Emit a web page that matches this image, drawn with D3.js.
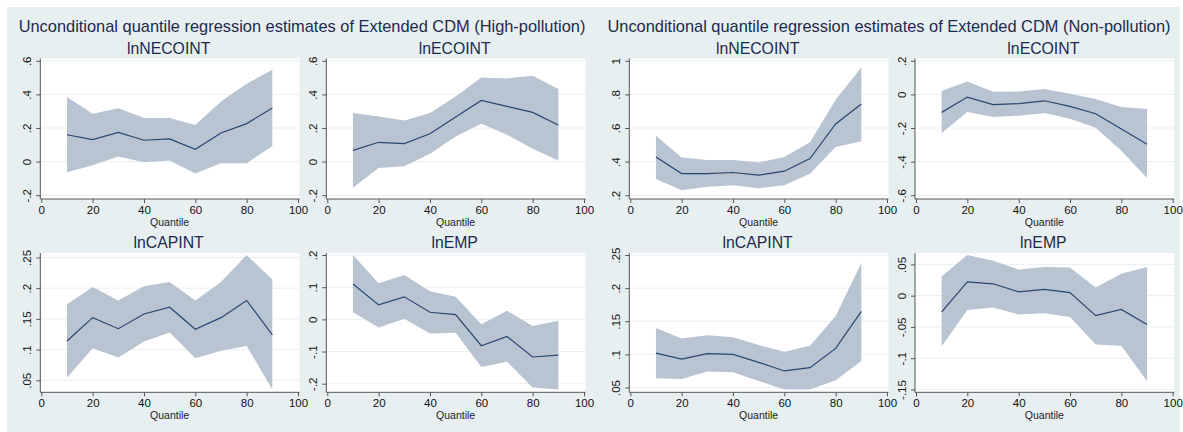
<!DOCTYPE html>
<html>
<head>
<meta charset="utf-8">
<script src="https://cdn.jsdelivr.net/npm/d3@7"></script>
<style>
  html, body { margin: 0; padding: 0; background: #ffffff; }
  #app { width: 1183px; height: 432px; }
  text { font-family: "Liberation Sans", Arial, Helvetica, sans-serif; }
</style>
</head>
<body>
<div id="app"></div>
<script>
// Quantiles estimated
const quantiles = [10, 20, 30, 40, 50, 60, 70, 80, 90];
const xTicks = [0, 20, 40, 60, 80, 100];

// High-pollution
const highNecoEst = [0.160, 0.131, 0.174, 0.127, 0.135, 0.073, 0.170, 0.226, 0.319];
const highNecoHi  = [0.384, 0.285, 0.317, 0.259, 0.259, 0.218, 0.358, 0.463, 0.547];
const highNecoLo  = [-0.063, -0.022, 0.030, -0.004, 0.006, -0.071, -0.010, -0.010, 0.093];

const highEcoEst = [0.067, 0.115, 0.107, 0.166, 0.265, 0.364, 0.329, 0.293, 0.218];
const highEcoHi  = [0.289, 0.269, 0.244, 0.289, 0.388, 0.501, 0.495, 0.511, 0.432];
const highEcoLo  = [-0.156, -0.038, -0.028, 0.046, 0.150, 0.226, 0.160, 0.077, 0.006];

const highCapEst = [0.114, 0.152, 0.134, 0.158, 0.169, 0.133, 0.152, 0.180, 0.124];
const highCapHi  = [0.174, 0.202, 0.180, 0.203, 0.210, 0.180, 0.210, 0.254, 0.214];
const highCapLo  = [0.054, 0.102, 0.087, 0.113, 0.128, 0.086, 0.098, 0.106, 0.035];

const highEmpEst = [0.110, 0.045, 0.070, 0.022, 0.015, -0.082, -0.053, -0.117, -0.111];
const highEmpHi  = [0.200, 0.112, 0.138, 0.087, 0.070, -0.015, 0.027, -0.021, -0.004];
const highEmpLo  = [0.022, -0.025, 0.002, -0.044, -0.042, -0.148, -0.132, -0.212, -0.218];

// Non-pollution
const nonNecoEst = [0.428, 0.329, 0.329, 0.335, 0.319, 0.343, 0.418, 0.624, 0.743];
const nonNecoHi  = [0.554, 0.424, 0.410, 0.410, 0.394, 0.428, 0.515, 0.768, 0.960];
const nonNecoLo  = [0.297, 0.230, 0.250, 0.259, 0.242, 0.259, 0.327, 0.487, 0.521];

const nonEcoEst = [-0.107, -0.016, -0.061, -0.055, -0.038, -0.071, -0.115, -0.206, -0.297];
const nonEcoHi  = [0.020, 0.077, 0.016, 0.018, 0.032, 0.004, -0.028, -0.075, -0.087];
const nonEcoLo  = [-0.230, -0.105, -0.135, -0.127, -0.111, -0.145, -0.198, -0.335, -0.497];

const nonCapEst = [0.102, 0.093, 0.101, 0.100, 0.088, 0.075, 0.080, 0.109, 0.165];
const nonCapHi  = [0.140, 0.124, 0.129, 0.126, 0.114, 0.104, 0.113, 0.158, 0.238];
const nonCapLo  = [0.064, 0.063, 0.074, 0.073, 0.060, 0.047, 0.047, 0.061, 0.090];

const nonEmpEst = [-0.026, 0.022, 0.019, 0.006, 0.010, 0.005, -0.032, -0.022, -0.046];
const nonEmpHi  = [0.031, 0.065, 0.056, 0.042, 0.046, 0.045, 0.013, 0.035, 0.046];
const nonEmpLo  = [-0.081, -0.023, -0.019, -0.030, -0.028, -0.034, -0.078, -0.080, -0.137];

// y axis ticks per panel
const yTicksHighNeco = [-0.2, 0, 0.2, 0.4, 0.6];
const yTicksHighEco  = [-0.2, 0, 0.2, 0.4, 0.6];
const yTicksHighCap  = [0.05, 0.1, 0.15, 0.2, 0.25];
const yTicksHighEmp  = [-0.2, -0.1, 0, 0.1, 0.2];
const yTicksNonNeco  = [0.2, 0.4, 0.6, 0.8, 1];
const yTicksNonEco   = [-0.6, -0.4, -0.2, 0, 0.2];
const yTicksNonCap   = [0.05, 0.1, 0.15, 0.2, 0.25];
const yTicksNonEmp   = [-0.15, -0.1, -0.05, 0, 0.05];

const titles = [
  "Unconditional quantile regression estimates of Extended CDM (High-pollution)",
  "Unconditional quantile regression estimates of Extended CDM (Non-pollution)"
];

function drawPlot(targetDiv) {
  const width = 1183, height = 432;
  const svg = d3.select(targetDiv).append("svg")
    .attr("width", width)
    .attr("height", height)
    .attr("viewBox", [0, 0, width, height]);

  const bgColor = "#e8eff1";
  const titleColor = "#1c2a4e";
  const lineColor = "#29476c";
  const bandColor = "#b9c4d3";
  const axisColor = "#555";

  svg.append("rect").attr("x", 7).attr("y", 7)
    .attr("width", 1173).attr("height", height - 7)
    .attr("fill", bgColor);

  // Stata-like tick formatting: .2, -.15, 0, 1
  const stataFmt = v => String(+v.toFixed(3)).replace(/^(-?)0\./, "$1.");

  const colX0 = [41.3, 327.3, 630.3, 916];
  const plotW = 256.7;
  const rows = [
    {regionTop: 58.5, innerTop: 60.8, innerBottom: 195.2, axisY: 199},
    {regionTop: 253, innerTop: 255, innerBottom: 389.5, axisY: 392.3}
  ];

  const panels = [
    {name: "lnNECOINT", row: 0, col: 0, est: highNecoEst, hi: highNecoHi, lo: highNecoLo, ticks: yTicksHighNeco},
    {name: "lnECOINT",  row: 0, col: 1, est: highEcoEst,  hi: highEcoHi,  lo: highEcoLo,  ticks: yTicksHighEco},
    {name: "lnCAPINT",  row: 1, col: 0, est: highCapEst,  hi: highCapHi,  lo: highCapLo,  ticks: yTicksHighCap},
    {name: "lnEMP",     row: 1, col: 1, est: highEmpEst,  hi: highEmpHi,  lo: highEmpLo,  ticks: yTicksHighEmp},
    {name: "lnNECOINT", row: 0, col: 2, est: nonNecoEst,  hi: nonNecoHi,  lo: nonNecoLo,  ticks: yTicksNonNeco},
    {name: "lnECOINT",  row: 0, col: 3, est: nonEcoEst,   hi: nonEcoHi,   lo: nonEcoLo,   ticks: yTicksNonEco},
    {name: "lnCAPINT",  row: 1, col: 2, est: nonCapEst,   hi: nonCapHi,   lo: nonCapLo,   ticks: yTicksNonCap},
    {name: "lnEMP",     row: 1, col: 3, est: nonEmpEst,   hi: nonEmpHi,   lo: nonEmpLo,   ticks: yTicksNonEmp}
  ];

  // main titles
  titles.forEach((t, i) => {
    svg.append("text")
      .attr("x", 302 + i * 587)
      .attr("y", 32)
      .attr("text-anchor", "middle")
      .attr("font-size", 16.4)
      .attr("fill", titleColor)
      .text(t);
  });

  panels.forEach(p => {
    const r = rows[p.row];
    const x0 = colX0[p.col];
    const x = d3.scaleLinear().domain([0, 100]).range([x0, x0 + plotW]);
    const yMin = Math.min(d3.min(p.ticks), d3.min(p.lo));
    const yMax = Math.max(d3.max(p.ticks), d3.max(p.hi));
    const y = d3.scaleLinear().domain([yMin, yMax]).range([r.innerBottom, r.innerTop]);

    const g = svg.append("g");

    // plot region
    g.append("rect")
      .attr("x", x0 - 1).attr("y", r.regionTop)
      .attr("width", plotW + 2.5).attr("height", r.axisY - r.regionTop)
      .attr("fill", "#ffffff");

    // gridlines
    g.selectAll(".grid").data(p.ticks).join("line")
      .attr("x1", x0 - 1).attr("x2", x0 + plotW + 1.5)
      .attr("y1", d => y(d)).attr("y2", d => y(d))
      .attr("stroke", bgColor).attr("stroke-width", 1);

    // confidence band
    const area = d3.area()
      .x((d, i) => x(quantiles[i]))
      .y0((d, i) => y(p.lo[i]))
      .y1((d, i) => y(p.hi[i]));
    g.append("path").datum(p.est)
      .attr("d", area)
      .attr("fill", bandColor);

    // estimate line
    const line = d3.line()
      .x((d, i) => x(quantiles[i]))
      .y(d => y(d));
    g.append("path").datum(p.est)
      .attr("d", line)
      .attr("fill", "none")
      .attr("stroke", lineColor)
      .attr("stroke-width", 1.2);

    // y axis
    const yAxis = g.append("g")
      .attr("transform", `translate(${x0 - 1},0)`)
      .call(d3.axisLeft(y).tickValues(p.ticks).tickSize(4).tickPadding(4).tickFormat(stataFmt));
    yAxis.select(".domain").attr("d", `M0,${r.regionTop}V${r.axisY}`).attr("stroke", axisColor);
    yAxis.selectAll(".tick line").attr("stroke", axisColor);
    yAxis.selectAll(".tick text")
      .attr("x", null).attr("dy", null)
      .attr("transform", "translate(-9.5,0) rotate(-90)")
      .attr("text-anchor", "middle")
      .attr("font-size", 11.5)
      .attr("fill", "#111")
      .style("font-family", "Liberation Sans, Arial, sans-serif");

    // x axis
    const xAxis = g.append("g")
      .attr("transform", `translate(0,${r.axisY})`)
      .call(d3.axisBottom(x).tickValues(xTicks).tickSize(4).tickPadding(3));
    xAxis.select(".domain").attr("d", `M${x0 - 1},0H${x0 + plotW + 1.5}`).attr("stroke", axisColor);
    xAxis.selectAll(".tick line").attr("stroke", axisColor);
    xAxis.selectAll(".tick text")
      .attr("font-size", 11.5)
      .attr("fill", "#111")
      .style("font-family", "Liberation Sans, Arial, sans-serif");

    // axis title
    g.append("text")
      .attr("x", x0 + plotW / 2)
      .attr("y", r.axisY + 27)
      .attr("text-anchor", "middle")
      .attr("font-size", 10.5)
      .attr("fill", "#222")
      .text("Quantile");

    // panel title
    g.append("text")
      .attr("x", x0 + plotW / 2 - 1)
      .attr("y", r.regionTop - 5)
      .attr("text-anchor", "middle")
      .attr("font-size", 15.8)
      .attr("fill", titleColor)
      .text(p.name);
  });
}

function main() {
  drawPlot("#app");
}

document.addEventListener("DOMContentLoaded", main);
</script>
</body>
</html>
